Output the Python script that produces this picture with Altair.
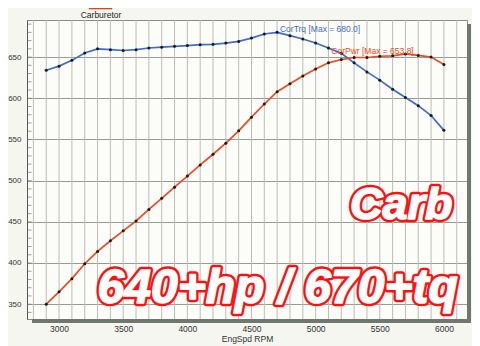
import altair as alt
import pandas as pd

rpm = [2900, 3000, 3100, 3200, 3300, 3400, 3500, 3600, 3700, 3800, 3900, 4000,
       4100, 4200, 4300, 4400, 4500, 4600, 4700, 4800, 4900, 5000, 5100, 5200,
       5300, 5400, 5500, 5600, 5700, 5800, 5900, 6000]
cortrq = [634, 639, 646, 655, 660, 659, 658, 659, 661, 662, 663, 664,
          665, 665.5, 667, 669, 673, 678, 680, 676, 672, 667, 661, 654.5,
          643, 632, 622, 611, 601, 591, 579, 561]
corpwr = [350, 365, 381, 399, 414, 427, 439, 451, 465, 478.5, 492, 505.5,
          519, 532, 545.5, 560.5, 577, 593, 608, 617.5, 627, 635.5, 643, 647,
          649.5, 649.5, 651, 651.5, 653.8, 652, 650, 641]
series_names = ["CorTrq", "CorPwr"]
series_colors = ["#3d6cc9", "#ef4a20"]
label_colors = ["#4a7fdc", "#f05a30"]
max_labels = ["CorTrq [Max = 680.0]", "CorPwr [Max = 653.8]"]
label_rpm = [4722, 5122]
label_val = [683.6, 657.6]
x_ticks = [3000, 3500, 4000, 4500, 5000, 5500, 6000]
x_grid = [2800, 2900, 3000, 3100, 3200, 3300, 3400, 3500, 3600, 3700, 3800,
          3900, 4000, 4100, 4200, 4300, 4400, 4500, 4600, 4700, 4800, 4900,
          5000, 5100, 5200, 5300, 5400, 5500, 5600, 5700, 5800, 5900, 6000, 6100]
y_ticks = [350, 400, 450, 500, 550, 600, 650]
minor_y = [340, 350, 360, 370, 380, 390, 400, 410, 420, 430, 440, 450, 460,
           470, 480, 490, 500, 510, 520, 530, 540, 550, 560, 570, 580, 590,
           600, 610, 620, 630, 640, 650, 660, 670, 680, 690]
legend_name = ["Carburetor"]
stamp1 = ["Carb"]
stamp1_rpm = [5268]
stamp1_val = [453]
stamp2 = ["640+hp / 670+tq"]
stamp2_rpm = [3300]
stamp2_val = [351.5]

FONT = "Liberation Sans"

long = pd.DataFrame({
    "rpm": rpm + rpm,
    "val": cortrq + corpwr,
    "series": [series_names[0]] * len(rpm) + [series_names[1]] * len(rpm),
})

xscale = alt.Scale(domain=[2750, 6180], nice=False, zero=False)
yscale = alt.Scale(domain=[332, 695], nice=False, zero=False)
cscale = alt.Scale(domain=series_names, range=series_colors)
lscale = alt.Scale(domain=series_names, range=label_colors)

xaxis = alt.Axis(values=x_ticks, format="d",
                 labelOverlap=False, labelFlush=False,
                 ticks=False, labelPadding=5, domain=False, grid=False,
                 labelFont=FONT, labelFontSize=8.5, labelColor="#333333",
                 title="EngSpd RPM", titleFont=FONT, titleFontSize=8.5,
                 titleFontWeight="normal", titleColor="#333333", titlePadding=2)
yaxis = alt.Axis(values=y_ticks, ticks=False, labelPadding=6,
                 labelOverlap=False, labelFlush=False,
                 domain=True, domainColor="#555555", domainWidth=1,
                 grid=True, gridColor="#9a9a94", gridWidth=1,
                 labelFont=FONT, labelFontSize=8, labelColor="#333333",
                 title=None)

vgrid = alt.Chart(pd.DataFrame({"g": x_grid})).mark_rule(
    color="#bdbdb6", strokeWidth=1).encode(x=alt.X("g:Q", scale=xscale, axis=xaxis))

base = alt.Chart(long)

lines = base.mark_line(strokeWidth=1.7).encode(
    x=alt.X("rpm:Q", scale=xscale, axis=xaxis),
    y=alt.Y("val:Q", scale=yscale, axis=yaxis),
    color=alt.Color("series:N", scale=cscale, legend=None),
    detail="series:N",
)
points = base.mark_circle(size=9, color="#1a1a1a", opacity=1).encode(
    x=alt.X("rpm:Q", scale=xscale, axis=xaxis),
    y=alt.Y("val:Q", scale=yscale, axis=yaxis),
)

minor = alt.Chart(pd.DataFrame({"v": minor_y})).mark_tick(
    size=4, thickness=1, color="#777777").encode(
    y=alt.Y("v:Q", scale=yscale, axis=yaxis), x=alt.value(2.5))

labels = alt.Chart(pd.DataFrame({"t": max_labels, "rpm": label_rpm, "val": label_val,
                                 "series": series_names})).mark_text(
    align="left", baseline="middle", font=FONT, fontSize=8.5).encode(
    x=alt.X("rpm:Q", scale=xscale, axis=xaxis), y=alt.Y("val:Q", scale=yscale, axis=yaxis),
    text="t:N", color=alt.Color("series:N", scale=lscale, legend=None))


def stamp(texts, xs, ys, size):
    df = pd.DataFrame({"t": texts, "rpm": xs, "val": ys})
    enc = dict(x=alt.X("rpm:Q", scale=xscale, axis=xaxis),
               y=alt.Y("val:Q", scale=yscale, axis=yaxis), text="t:N")
    common = dict(align="left", baseline="alphabetic", font=FONT, fontSize=size,
                  fontWeight="bold", fontStyle="italic")
    outer = alt.Chart(df).mark_text(fill="#ff1010", stroke="#ff1010",
                                    strokeWidth=6.5, strokeJoin="round", **common).encode(**enc)
    inner = alt.Chart(df).mark_text(fill="white", stroke="white",
                                    strokeWidth=1.6, strokeJoin="round", **common).encode(**enc)
    return outer + inner


s1 = stamp(stamp1, stamp1_rpm, stamp1_val, 45)
s2 = stamp(stamp2, stamp2_rpm, stamp2_val, 48)

dummy = alt.Chart(pd.DataFrame({"a": [0]}))
shadow_r = dummy.mark_rect(color="#6f776f").encode(
    x=alt.value(440), x2=alt.value(444), y=alt.value(4), y2=alt.value(303))
shadow_b = dummy.mark_rect(color="#6f776f").encode(
    x=alt.value(5), x2=alt.value(444), y=alt.value(299), y2=alt.value(303))

leg_rect = dummy.mark_rect(color="#ee4b22", stroke="#b03010", strokeWidth=0.5).encode(
    x=alt.value(62), x2=alt.value(85), y=alt.value(-16), y2=alt.value(-11))
leg_text = alt.Chart(pd.DataFrame({"t": legend_name})).mark_text(
    align="center", baseline="middle", font=FONT, fontSize=8.5, color="#222222").encode(
    x=alt.value(74), y=alt.value(-5), text="t:N")

chart = alt.layer(
    vgrid, lines, points, minor, labels, s1, s2, shadow_r, shadow_b, leg_rect, leg_text
).properties(
    width=440, height=299,
    autosize=alt.AutoSizeParams(type="none"),
    padding={"left": 19, "top": 12, "right": 5, "bottom": 27},
    background="#f6f6f0",
).configure_view(stroke="#8a8a85", fill="#fcfcf8")

chart.save("out.html", embed_options={"renderer": "svg", "actions": False})
